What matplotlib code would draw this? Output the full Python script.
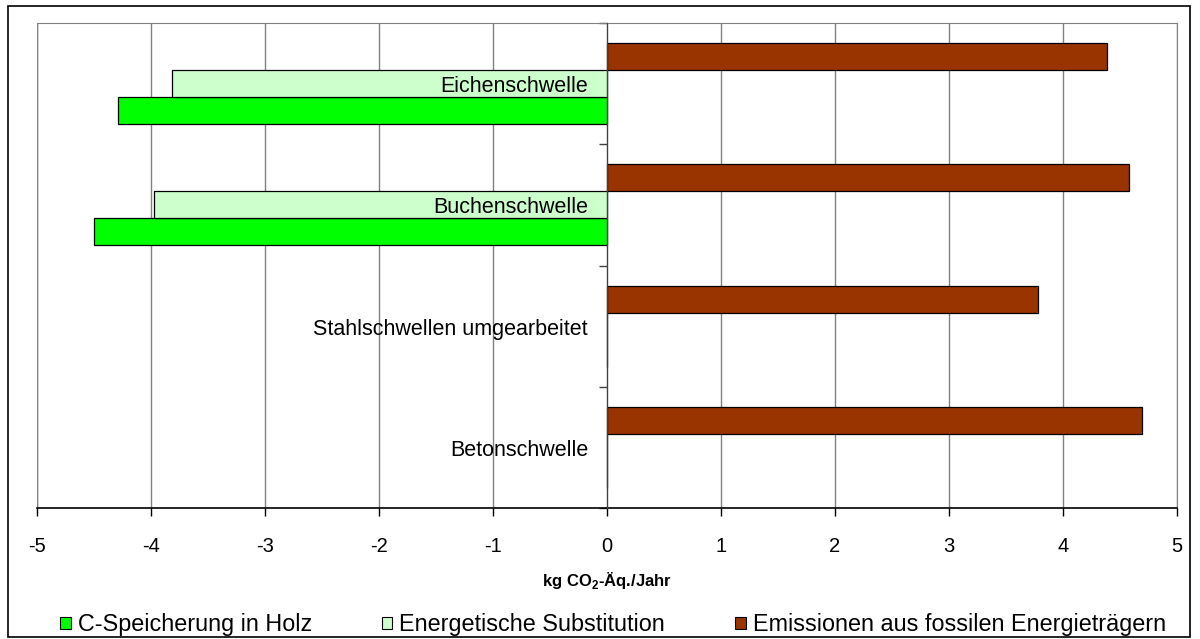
import numpy as np
import matplotlib.pyplot as plt
from matplotlib.patches import Patch, Rectangle
from matplotlib.transforms import offset_copy

plt.rcParams['font.family'] = ['Liberation Sans', 'DejaVu Sans']
plt.rcParams['mathtext.fontset'] = 'custom'
plt.rcParams['mathtext.rm'] = 'Liberation Sans'
plt.rcParams['mathtext.bf'] = 'Liberation Sans:bold'

# data (top to bottom)
categories = ['Eichenschwelle', 'Buchenschwelle', 'Stahlschwellen umgearbeitet', 'Betonschwelle']
c_speicherung = [-4.29, -4.50, 0.0, 0.0]
substitution = [-3.82, -3.97, 0.0, 0.0]
emissionen = [4.39, 4.58, 3.78, 4.69]
series_names = ['C-Speicherung in Holz', 'Energetische Substitution',
                'Emissionen aus fossilen Energieträgern']
colors = ['#00ff00', '#ccffcc', '#993300']

fig = plt.figure(figsize=(12, 6.39), dpi=100)
ax = fig.add_axes([37 / 1200, 1 - 508 / 639, 1140 / 1200, 485 / 639])

# outer chart frame
fig.patches.append(Rectangle((8 / 1200, 2 / 639), 1182 / 1200, 631 / 639,
                             transform=fig.transFigure, fill=False,
                             edgecolor='black', linewidth=1.2))

y = np.arange(len(categories))[::-1].astype(float)
h = 0.2225
kw = dict(height=h, edgecolor='black', linewidth=0.9, zorder=3)
ax.barh(y - h, c_speicherung, color=colors[0], **kw)
ax.barh(y, substitution, color=colors[1], **kw)
ax.barh(y + h, emissionen, color=colors[2], **kw)

ax.set_xlim(-5, 5)
ax.set_ylim(-0.5, len(categories) - 0.5)
ax.set_xticks(np.arange(-5, 6, 1))
ax.set_xticklabels([str(v) for v in range(-5, 6)], fontsize=14.5)
ax.tick_params(axis='x', direction='out', length=6, width=1, pad=15, color='black')
ax.grid(axis='x', color='#808080', linewidth=1, zorder=0)

# y axis at zero, category labels drawn on top of the bars
ax.spines['left'].set_position(('data', 0))
ax.spines['left'].set_color('#404040')
ax.spines['left'].set_zorder(4)
ax.set_yticks([])
ax.set_yticks(np.arange(-0.5, len(categories), 1), minor=True)
ax.tick_params(axis='y', which='minor', direction='out', length=6, width=1, color='#404040')
lab_tr = offset_copy(ax.transData, fig=fig, x=-19, y=-3, units='dots')
for yi, name in zip(y, categories):
    ax.text(0, yi, name, transform=lab_tr, ha='right', va='center',
            fontsize=15.5, zorder=6)

for s in ['top', 'right']:
    ax.spines[s].set_color('#808080')
ax.spines['bottom'].set_color('black')
ax.spines['bottom'].set_linewidth(1.2)
# left plot-area border
ax.axvline(-5, color='#808080', linewidth=1, zorder=1)

ax.set_xlabel(r'kg CO$_{\mathbf{2}}$-Äq./Jahr', fontsize=12, fontweight='bold', labelpad=10)

handles = [Patch(facecolor=c, edgecolor='black', linewidth=0.8) for c in colors]
fig.legend(handles, series_names, loc='center', bbox_to_anchor=(613 / 1200, 1 - 625 / 639),
           ncol=3, frameon=False, fontsize=16.8, handlelength=0.45, handleheight=0.45,
           handletextpad=0.3, columnspacing=3.0, borderaxespad=0, borderpad=0)

fig.savefig('out.png', dpi=100)
